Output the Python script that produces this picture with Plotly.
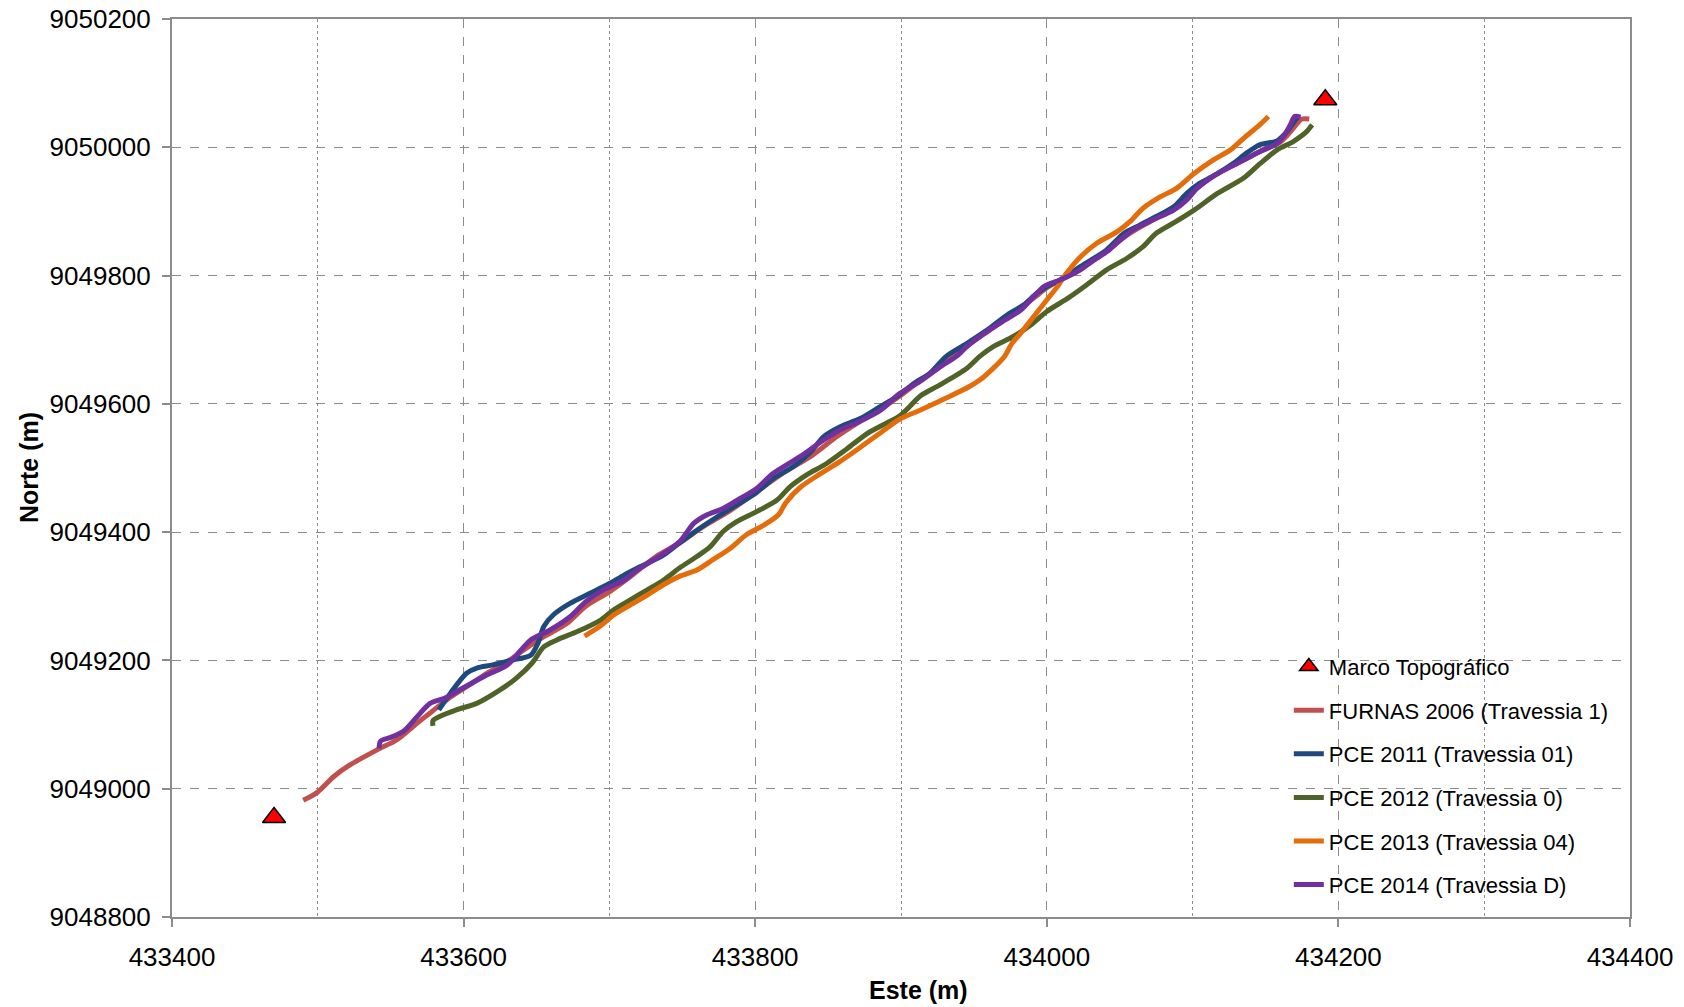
import plotly.graph_objects as go

# ---------------- data ----------------
marco_x = [433470, 434191]
marco_y = [9048955, 9050074]

furnas2006_x = [433490, 433500, 433511, 433522, 433541, 433554, 433568, 433577, 433591, 433602,
                433616, 433630, 433641, 433655, 433671, 433684, 433700, 433714, 433732, 433748,
                433764, 433783, 433801, 433819, 433838, 433856, 433870, 433886, 433899, 433913,
                433931, 433945, 433959, 433975, 433991, 434000, 434010, 434023, 434041, 434055,
                434075, 434090, 434105, 434118, 434135, 434150, 434160, 434167, 434171, 434175,
                434180]
furnas2006_y = [9048982, 9048995, 9049019, 9049037, 9049061, 9049076, 9049102, 9049118, 9049143, 9049159,
                9049180, 9049198, 9049216, 9049237, 9049258, 9049285, 9049307, 9049330, 9049362, 9049383,
                9049408, 9049434, 9049463, 9049492, 9049518, 9049549, 9049570, 9049592, 9049612, 9049636,
                9049665, 9049690, 9049712, 9049738, 9049765, 9049781, 9049794, 9049810, 9049838, 9049863,
                9049890, 9049912, 9049940, 9049960, 9049980, 9049998, 9050008, 9050024, 9050035, 9050044,
                9050044]

pce2011_x = [433583, 433591, 433602, 433609, 433620, 433634, 433646, 433651, 433655, 433662,
             433673, 433687, 433700, 433710, 433721, 433737, 433748, 433760, 433774, 433787,
             433801, 433812, 433826, 433838, 433847, 433858, 433872, 433886, 433897, 433909,
             433920, 433931, 433945, 433959, 433973, 433984, 433993, 434000, 434009, 434023,
             434041, 434053, 434064, 434075, 434087, 434096, 434105, 434117, 434128, 434137,
             434146, 434158, 434165, 434169, 434172]
pce2011_y = [9049123, 9049149, 9049180, 9049188, 9049193, 9049201, 9049208, 9049227, 9049253, 9049272,
             9049289, 9049305, 9049320, 9049333, 9049346, 9049364, 9049383, 9049403, 9049424, 9049442,
             9049462, 9049483, 9049502, 9049525, 9049549, 9049564, 9049577, 9049596, 9049611, 9049632,
             9049648, 9049674, 9049694, 9049715, 9049739, 9049754, 9049772, 9049783, 9049793, 9049814,
             9049840, 9049866, 9049879, 9049892, 9049907, 9049928, 9049944, 9049959, 9049975, 9049991,
             9050004, 9050010, 9050025, 9050038, 9050047]

pce2012_x = [433579, 433579, 433584, 433595, 433609, 433625, 433636, 433647, 433655, 433664,
             433678, 433694, 433703, 433714, 433726, 433737, 433748, 433760, 433769, 433778,
             433787, 433801, 433815, 433824, 433835, 433849, 433863, 433877, 433890, 433899,
             433906, 433913, 433927, 433945, 433954, 433963, 433977, 433989, 434000, 434014,
             434027, 434041, 434055, 434066, 434075, 434087, 434101, 434117, 434135, 434146,
             434158, 434169, 434178, 434182]
pce2012_y = [9049098, 9049106, 9049113, 9049123, 9049133, 9049154, 9049172, 9049196, 9049221, 9049232,
             9049245, 9049263, 9049279, 9049294, 9049310, 9049325, 9049344, 9049362, 9049377, 9049401,
             9049416, 9049432, 9049450, 9049471, 9049489, 9049507, 9049530, 9049554, 9049570, 9049581,
             9049596, 9049612, 9049630, 9049655, 9049674, 9049689, 9049705, 9049723, 9049744, 9049764,
             9049785, 9049809, 9049827, 9049845, 9049866, 9049882, 9049902, 9049928, 9049952, 9049974,
             9049996, 9050009, 9050024, 9050035]

pce2013_x = [433683, 433694, 433703, 433714, 433726, 433737, 433748, 433760, 433771, 433783,
             433794, 433806, 433816, 433821, 433831, 433844, 433858, 433872, 433886, 433899,
             433913, 433931, 433947, 433954, 433963, 433971, 433976, 433982, 433991, 434000,
             434007, 434014, 434023, 434034, 434048, 434057, 434066, 434078, 434089, 434101,
             434114, 434126, 434135, 434146, 434152]
pce2013_y = [9049238, 9049254, 9049271, 9049286, 9049302, 9049318, 9049331, 9049341, 9049357, 9049375,
             9049396, 9049411, 9049427, 9049446, 9049470, 9049490, 9049510, 9049532, 9049555, 9049576,
             9049590, 9049609, 9049627, 9049637, 9049655, 9049674, 9049694, 9049710, 9049736, 9049762,
             9049782, 9049805, 9049829, 9049850, 9049868, 9049884, 9049905, 9049923, 9049936, 9049959,
             9049980, 9049996, 9050014, 9050035, 9050048]

pce2014_x = [433542, 433543, 433550, 433559, 433568, 433577, 433588, 433598, 433614, 433630,
             433639, 433646, 433659, 433673, 433684, 433696, 433710, 433719, 433732, 433748,
             433758, 433767, 433778, 433790, 433801, 433812, 433831, 433844, 433858, 433872,
             433886, 433899, 433913, 433927, 433938, 433945, 433954, 433968, 433982, 433991,
             433998, 434009, 434023, 434032, 434041, 434050, 434059, 434073, 434087, 434096,
             434103, 434112, 434123, 434135, 434146, 434158, 434163, 434167, 434170, 434174]
pce2014_y = [9049063, 9049074, 9049080, 9049090, 9049112, 9049133, 9049142, 9049155, 9049175, 9049193,
             9049215, 9049232, 9049247, 9049268, 9049292, 9049310, 9049325, 9049341, 9049359, 9049385,
             9049414, 9049427, 9049437, 9049453, 9049468, 9049491, 9049518, 9049539, 9049559, 9049573,
             9049590, 9049616, 9049635, 9049658, 9049674, 9049689, 9049705, 9049726, 9049746, 9049767,
             9049783, 9049793, 9049809, 9049824, 9049837, 9049855, 9049871, 9049887, 9049902, 9049918,
             9049936, 9049952, 9049966, 9049980, 9049993, 9050006, 9050019, 9050035, 9050048, 9050047]

series = [
    ("FURNAS 2006 (Travessia 1)", furnas2006_x, furnas2006_y, "#C0504D"),
    ("PCE 2011 (Travessia 01)", pce2011_x, pce2011_y, "#1F497D"),
    ("PCE 2012 (Travessia 0)", pce2012_x, pce2012_y, "#4F6228"),
    ("PCE 2013 (Travessia 04)", pce2013_x, pce2013_y, "#E46C0A"),
    ("PCE 2014 (Travessia D)", pce2014_x, pce2014_y, "#7030A0"),
]

x_range = [433400, 434400]
y_range = [9048800, 9050200]

# ---------------- figure ----------------
fig = go.Figure()

fig.add_trace(go.Scatter(
    x=marco_x, y=marco_y, mode="markers", name="Marco Topográfico",
    marker=dict(symbol="triangle-up", size=20, color="#FF0000",
                line=dict(color="#000000", width=1.5)),
    legendgroup="g0",
))

for i, (name, xs, ys, col) in enumerate(series):
    fig.add_trace(go.Scatter(
        x=xs, y=ys, mode="lines", name=name,
        line=dict(color=col, width=5, shape="spline", smoothing=0.8),
        legendgroup=f"g{i+1}",
    ))

grid_col = "#8C8C8C"
font_family = "Liberation Sans, Arial, sans-serif"

fig.update_layout(
    width=1684, height=1007,
    margin=dict(l=172, r=54, t=19, b=90, autoexpand=False),
    paper_bgcolor="white", plot_bgcolor="white",
    font=dict(family=font_family, color="#000000", size=26),
    showlegend=True,
    legend=dict(
        x=0.766, y=0.302, xanchor="left", yanchor="top",
        bgcolor="rgba(255,255,255,0)", borderwidth=0,
        font=dict(size=22, family=font_family, color="#000000"),
        tracegroupgap=12, itemwidth=30,
    ),
    xaxis=dict(
        range=x_range, dtick=200, tick0=433400, tickformat="d",
        showgrid=True, gridcolor=grid_col, griddash="dash", gridwidth=1.2,
        minor=dict(dtick=100, tick0=433400, showgrid=True, gridcolor=grid_col,
                   griddash="dot", gridwidth=1.2, ticks=""),
        showline=True, linecolor="#8C8C8C", linewidth=2, mirror=True,
        ticks="outside", ticklen=8, tickcolor="#8C8C8C", tickwidth=1.5,
        ticklabelstandoff=8,
        zeroline=False,
        tickfont=dict(size=26, family=font_family, color="#000000"),
    ),
    yaxis=dict(
        range=y_range, dtick=200, tick0=9048800, tickformat="d",
        showgrid=True, gridcolor=grid_col, griddash="dash", gridwidth=1.2,
        showline=True, linecolor="#8C8C8C", linewidth=2, mirror=True,
        ticks="outside", ticklen=8, tickcolor="#8C8C8C", tickwidth=1.5,
        ticklabelstandoff=6,
        zeroline=False,
        tickfont=dict(size=26, family=font_family, color="#000000"),
    ),
    annotations=[
        dict(text="<b>Este (m)</b>", xref="paper", yref="paper",
             x=0.5117, y=-0.0813, xanchor="center", yanchor="middle",
             showarrow=False, font=dict(size=25, family=font_family, color="#000000")),
        dict(text="<b>Norte (m)</b>", xref="paper", yref="paper",
             x=-0.0981, y=0.501, xanchor="center", yanchor="middle", textangle=-90,
             showarrow=False, font=dict(size=25, family=font_family, color="#000000")),
    ],
)

fig.write_html("out.html",
               config={"displayModeBar": False},
               post_script="document.body.style.margin='0';document.body.style.overflow='hidden';")
